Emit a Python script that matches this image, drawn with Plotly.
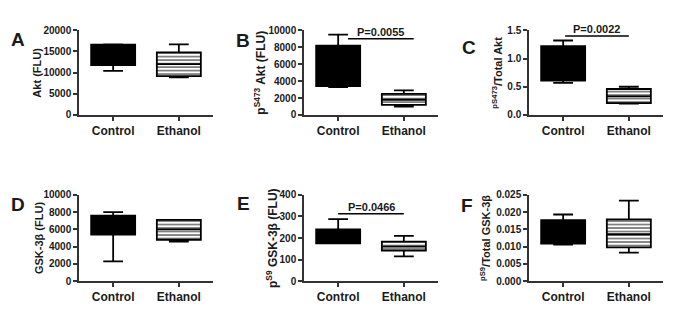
import plotly.graph_objects as go

# the page body adds an 8px margin; the figure is sized/positioned to compensate
PAD = 8
W, H = 675 - PAD, 320 - PAD

categories = ["Control", "Ethanol"]
panel_letters = ["A", "B", "C", "D", "E", "F"]
y_titles = [
    "Akt (FLU)",
    "p<sup>S473</sup> Akt (FLU)",
    "<sup>pS473</sup>/Total Akt",
    "GSK-3β (FLU)",
    "p<sup>S9</sup> GSK-3β (FLU)",
    "<sup>pS9</sup>/Total GSK-3β",
]
y_max = [20000, 10000, 1.5, 10000, 400, 0.025]
y_dtick = [5000, 2000, 0.5, 2000, 100, 0.005]
y_fmt = ["d", "d", ".1f", "d", "d", ".3f"]

# box statistics per panel: [Control, Ethanol]
q1 = [[11800, 9200], [3400, 1200], [0.61, 0.21], [5400, 4800], [175, 142], [0.0109, 0.0098]]
med = [[14000, 12000], [5500, 1800], [0.90, 0.33], [6500, 6000], [200, 160], [0.0140, 0.0136]]
q3 = [[16600, 14800], [8200, 2500], [1.22, 0.46], [7600, 7100], [240, 183], [0.0177, 0.0179]]
lo = [[10400, 8900], [3300, 1000], [0.57, 0.20], [2300, 4600], [175, 115], [0.0106, 0.0083]]
hi = [[16700, 16700], [9500, 2900], [1.32, 0.50], [8000, 7100], [287, 210], [0.0193, 0.0233]]

# significance annotations: panel index, p-text, y level, x start, x end
sig_panel = [1, 2, 4]
sig_text = ["P=0.0055", "P=0.0022", "P=0.0466"]
sig_y = [9000, 1.40, 312]
sig_x0 = [0.15, 0.03, 0.0]
sig_x1 = [1.15, 1.0, 1.0]

# pixel layout (screen coordinates)
col_x = [(79, 213), (304, 438), (529, 663)]
row_y = [(25, 113), (196, 286)]
title_x = [37, 260, 497, 39, 272, 485]
letter_pos = [(18, 35), (243, 36), (469, 43), (18, 206), (243, 205), (467, 207)]
title_size = [11, 12, 11, 11, 12, 11]


def px(x):
    return (x - PAD) / W


def py(y):
    return 1 - (y - PAD) / H


FONT = "Liberation Sans, Arial, sans-serif"
TXT = "#1a1a1a"
AX = "#333333"
BW = 0.67

fig = go.Figure()
layout = dict(
    width=W, height=H, margin=dict(l=0, r=0, t=0, b=0),
    paper_bgcolor="white", plot_bgcolor="white", showlegend=False,
    font=dict(family=FONT, color=TXT),
)
annotations = []
shapes = []

for i in range(6):
    r, c = divmod(i, 3)
    n = "" if i == 0 else str(i + 1)
    xa, ya = "x" + n, "y" + n
    x0, x1 = col_x[c]
    y0, y1 = row_y[r]
    layout["xaxis" + n] = dict(
        domain=[px(x0), px(x1)], range=[-0.52, 1.52], anchor=ya,
        tickvals=[0, 1], ticktext=categories, showgrid=False, zeroline=False,
        showline=True, linecolor=AX, linewidth=1.5, ticks="outside", ticklen=4,
        tickcolor=AX, tickwidth=1.5,
        tickfont=dict(size=12, family=FONT, color=TXT, weight="bold"), fixedrange=True,
    )
    layout["yaxis" + n] = dict(
        domain=[py(y1), py(y0)], range=[0, y_max[i]], anchor=xa,
        dtick=y_dtick[i], tick0=0, tickformat=y_fmt[i], showgrid=False, zeroline=False,
        showline=True, linecolor=AX, linewidth=1.5, ticks="outside", ticklen=4,
        tickcolor=AX, tickwidth=1.5,
        tickfont=dict(size=10, family=FONT, color=TXT, weight="bold"), fixedrange=True,
    )
    # striped fill of the Ethanol box
    fig.add_trace(go.Bar(
        x=[1], y=[q3[i][1] - q1[i][1]], base=[q1[i][1]], width=BW,
        xaxis=xa, yaxis=ya,
        marker=dict(color="white", line=dict(color="black", width=0),
                    pattern=dict(shape="-", fgcolor="black", bgcolor="white", size=3.5, solidity=0.5)),
    ))
    for j, fill in enumerate(["black", "rgba(0,0,0,0)"]):
        fig.add_trace(go.Box(
            x=[j], q1=[q1[i][j]], median=[med[i][j]], q3=[q3[i][j]],
            lowerfence=[lo[i][j]], upperfence=[hi[i][j]],
            width=BW, whiskerwidth=0.45, fillcolor=fill,
            line=dict(color="black", width=1.8), boxpoints=False,
            xaxis=xa, yaxis=ya,
        ))
    annotations.append(dict(
        x=px(title_x[i]), y=py((y0 + y1) / 2), xref="paper", yref="paper",
        text="<b>" + y_titles[i] + "</b>", textangle=-90, showarrow=False,
        font=dict(size=title_size[i], family=FONT, color=TXT),
        xanchor="center", yanchor="middle",
    ))
    lx, ly = letter_pos[i]
    annotations.append(dict(
        x=px(lx), y=py(ly), xref="paper", yref="paper",
        text="<b>" + panel_letters[i] + "</b>", showarrow=False,
        font=dict(size=19, family=FONT, color=TXT), xanchor="center", yanchor="middle",
    ))

for k, p in enumerate(sig_panel):
    n = "" if p == 0 else str(p + 1)
    shapes.append(dict(type="line", xref="x" + n, yref="y" + n,
                       x0=sig_x0[k], x1=sig_x1[k], y0=sig_y[k], y1=sig_y[k],
                       line=dict(color="black", width=1.5)))
    annotations.append(dict(
        x=(sig_x0[k] + sig_x1[k]) / 2, y=sig_y[k], xref="x" + n, yref="y" + n,
        text="<b>" + sig_text[k] + "</b>", showarrow=False, yanchor="bottom", yshift=-1,
        font=dict(size=11, family=FONT, color=TXT),
    ))

layout["annotations"] = annotations
layout["shapes"] = shapes
fig.update_layout(**layout)
fig.write_html("out.html")
